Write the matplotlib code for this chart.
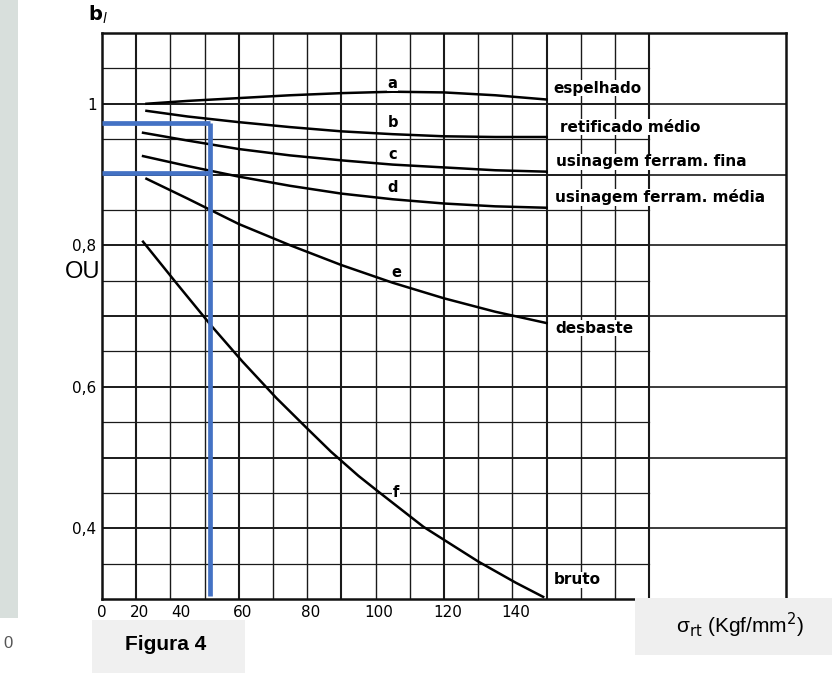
import numpy as np
import matplotlib
matplotlib.use("Agg")
import matplotlib.pyplot as plt
from matplotlib.patches import Rectangle

# ---- data ----
curve_names = ["a", "b", "c", "d", "e", "f"]
curve_labels = ["espelhado", "retificado médio", "usinagem ferram. fina",
                "usinagem ferram. média", "desbaste", "bruto"]

a_x = [33, 45, 60, 75, 90, 105, 120, 135, 150]
a_y = [1.000, 1.004, 1.008, 1.012, 1.015, 1.017, 1.016, 1.012, 1.006]
b_x = [33, 45, 60, 75, 90, 105, 120, 135, 150]
b_y = [0.990, 0.982, 0.974, 0.967, 0.961, 0.957, 0.954, 0.953, 0.953]
c_x = [32, 45, 60, 75, 90, 105, 120, 135, 150]
c_y = [0.959, 0.948, 0.936, 0.927, 0.920, 0.914, 0.910, 0.906, 0.904]
d_x = [32, 45, 60, 75, 90, 105, 120, 135, 150]
d_y = [0.926, 0.912, 0.897, 0.884, 0.873, 0.865, 0.859, 0.855, 0.853]
e_x = [33, 45, 60, 75, 90, 105, 120, 135, 150]
e_y = [0.894, 0.866, 0.830, 0.800, 0.772, 0.747, 0.725, 0.706, 0.690]
f_x = [32, 42, 52, 61, 71, 80, 87, 95, 101, 114, 130, 141, 149]
f_y = [0.805, 0.745, 0.686, 0.636, 0.584, 0.541, 0.508, 0.474, 0.451, 0.402, 0.353, 0.323, 0.303]

# blue reading-guide lines
blue_x = 51.5
blue_y_high = 0.973
blue_y_low = 0.902

x_tick_labels = ["0", "20", "40", "60", "80", "100", "120", "140"]
x_tick_pos = [20, 31, 43, 61, 81, 101, 121, 141]
y_tick_vals = [1.0, 0.8, 0.6, 0.4]
y_tick_labels = ["1", "0,8", "0,6", "0,4"]

# ---- figure ----
fig = plt.figure(figsize=(8.32, 6.73), dpi=100)
fig.patch.set_facecolor("white")

# scanned page strip on the left
fig.patches.append(Rectangle((0, 1 - 618 / 673), 18 / 832, 618 / 673,
                             transform=fig.transFigure, facecolor="#d8dfdc",
                             edgecolor="none", zorder=0))
fig.text(0.004, 1 - 643 / 673, "0", fontsize=12, color="#555555",
         va="center", ha="left", family="Liberation Sans")

ax = fig.add_axes([102 / 832, 1 - 599 / 673, 684 / 832, 566 / 673])
ax.set_xlim(20, 220)
ax.set_ylim(0.3, 1.1)

# grid of the scanned chart
for i, xv in enumerate(np.arange(30, 181, 10)):
    lw = 1.5 if i % 3 == 0 else 1.0
    ax.plot([xv, xv], [0.3, 1.1], color="#1a1a1a", lw=lw, zorder=1)
for yv in np.arange(0.35, 1.06, 0.05):
    major = abs(round(yv * 10) - yv * 10) < 1e-6
    ax.plot([20, 180], [yv, yv], color="#1a1a1a", lw=1.4 if major else 0.9, zorder=1)
for yv in np.arange(0.4, 1.01, 0.1):
    ax.plot([180, 220], [yv, yv], color="#1a1a1a", lw=1.2, zorder=1)
for s in ax.spines.values():
    s.set_linewidth(1.8)
    s.set_color("#111111")

# curves
xs = [a_x, b_x, c_x, d_x, e_x, f_x]
ys = [a_y, b_y, c_y, d_y, e_y, f_y]
for cx, cy in zip(xs, ys):
    ax.plot(cx, cy, color="black", lw=1.8, zorder=3, solid_joinstyle="round")

# curve letters
letter_pos = [(105, 1.029), (105, 0.973), (105, 0.928), (105, 0.881), (106, 0.762), (106, 0.451)]
for name, (lx, ly) in zip(curve_names, letter_pos):
    ax.text(lx, ly, name, fontsize=10.5, fontweight="bold", ha="center", va="center",
            zorder=4, bbox=dict(facecolor="white", edgecolor="none", pad=0.5))

# right-hand labels
label_pos = [(152, 1.022), (154, 0.967), (152.7, 0.918), (152.5, 0.868), (152.5, 0.683), (152, 0.327)]
for lab, (lx, ly) in zip(curve_labels, label_pos):
    ax.text(lx, ly, lab, fontsize=11, fontweight="bold", ha="left", va="center",
            zorder=4, bbox=dict(facecolor="white", edgecolor="none", pad=0.3))

# ticks
ax.set_xticks(x_tick_pos)
ax.set_xticklabels(x_tick_labels, fontsize=11)
ax.set_yticks(y_tick_vals)
ax.set_yticklabels(y_tick_labels, fontsize=11)
ax.tick_params(length=0, pad=4)

# blue guide lines
ax.plot([blue_x, blue_x], [blue_y_high, 0.304], color="#4472C4", lw=3.4, zorder=5,
        solid_capstyle="butt")
ax.plot([20, blue_x], [blue_y_high, blue_y_high], color="#4472C4", lw=3.4, zorder=5,
        solid_capstyle="butt", clip_on=False)
ax.plot([20, blue_x], [blue_y_low, blue_y_low], color="#4472C4", lw=3.4, zorder=5,
        solid_capstyle="butt", clip_on=False)

# axis title b_l
fig.text(88 / 832, 1 - 15 / 673, r"$\mathbf{b}_{l}$", fontsize=14, ha="left", va="center")

# "OU"
fig.text(65 / 832, 1 - 272 / 673, "OU", fontsize=17, family="Liberation Sans",
         ha="left", va="center")

# Figura 4 box
fig.patches.append(Rectangle((92 / 832, 0), 153 / 832, 53 / 673, transform=fig.transFigure,
                             facecolor="#f0f0f0", edgecolor="none", zorder=0))
fig.text(166 / 832, 1 - 645 / 673, "Figura 4", fontsize=15, fontweight="bold",
         family="Liberation Sans", ha="center", va="center")

# x-axis title box
fig.patches.append(Rectangle((635 / 832, 1 - 655 / 673), 197 / 832, 57 / 673,
                             transform=fig.transFigure, facecolor="#efefef",
                             edgecolor="none", zorder=0))
fig.text(740 / 832, 1 - 625 / 673, "σ$_{\\mathrm{rt}}$ (Kgf/mm$^{2}$)", fontsize=15,
         family="Liberation Sans", ha="center", va="center")

fig.savefig("out.png", dpi=100)
